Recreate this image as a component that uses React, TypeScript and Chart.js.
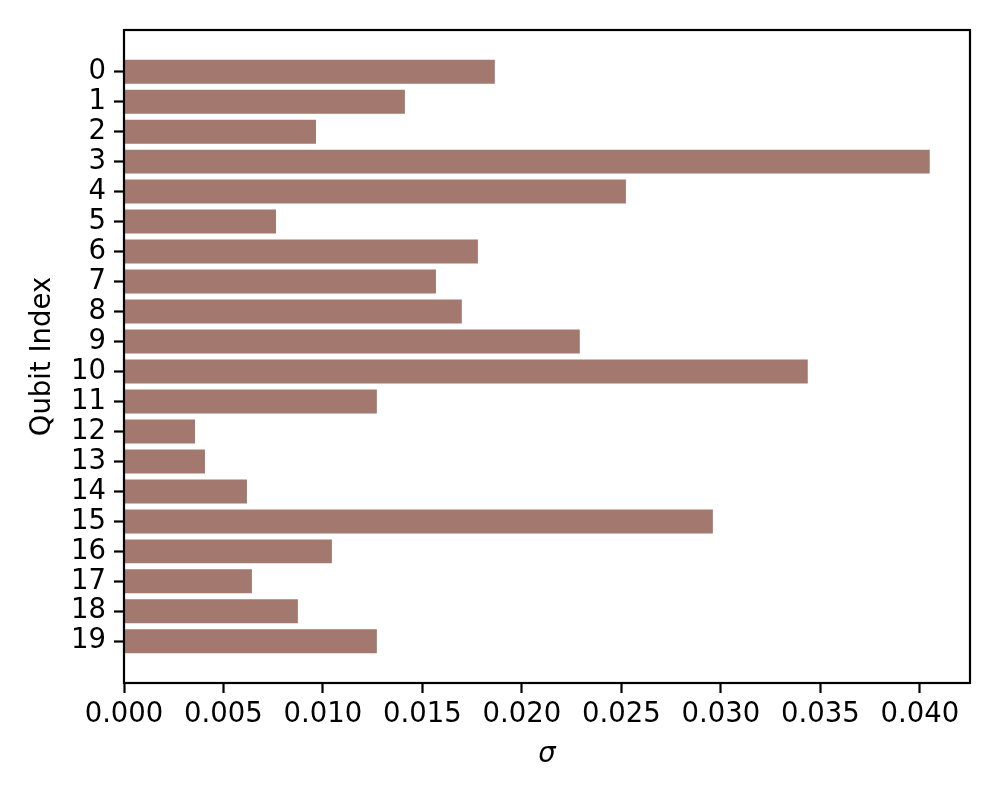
import React, { useEffect, useRef } from "react";
import { Chart, registerables } from "chart.js";

Chart.register(...registerables);

const qubits: number[] = [0, 1, 2, 3, 4, 5, 6, 7, 8, 9, 10, 11, 12, 13, 14, 15, 16, 17, 18, 19];
const sigmaValues: number[] = [
  0.01864, 0.01412, 0.00965, 0.0405, 0.02523, 0.00764, 0.01779, 0.01568, 0.01698, 0.02291,
  0.03437, 0.01271, 0.00357, 0.00407, 0.00618, 0.0296, 0.01045, 0.00643, 0.00874, 0.01271,
];
const xTicks: number[] = [0, 0.005, 0.01, 0.015, 0.02, 0.025, 0.03, 0.035, 0.04];

const FONT = "'DejaVu Sans', sans-serif";
const FONT_SIZE = 27.5;

const framePlugin = {
  id: "frame",
  afterDraw(chart: any) {
    const { ctx, chartArea } = chart;
    ctx.save();
    ctx.strokeStyle = "#000";
    ctx.lineWidth = 2.2;
    ctx.strokeRect(chartArea.left, chartArea.top, chartArea.right - chartArea.left, chartArea.bottom - chartArea.top);
    ctx.restore();
  },
};

export default function App() {
  const ref = useRef<HTMLCanvasElement | null>(null);
  useEffect(() => {
    if (!ref.current) return;
    const xMax = Math.max(...sigmaValues) * 1.05;
    const chart = new Chart(ref.current, {
      type: "bar",
      data: {
        datasets: [
          {
            data: qubits.map((q, i) => ({ x: sigmaValues[i], y: q })),
            backgroundColor: "rgba(140,86,75,0.8)",
            borderWidth: 0,
            categoryPercentage: 1,
            barPercentage: 0.8,
          },
        ],
      },
      options: {
        indexAxis: "y",
        animation: false,
        responsive: false,
        devicePixelRatio: 1,
        layout: { padding: { top: 30, right: 30, left: 0, bottom: 0 } },
        plugins: { legend: { display: false }, tooltip: { enabled: false } },
        scales: {
          x: {
            type: "linear",
            min: 0,
            max: xMax,
            afterBuildTicks: (s: any) => {
              s.ticks = xTicks.map((v) => ({ value: v }));
            },
            afterFit: (s: any) => {
              s.height = 117;
            },
            grid: {
              drawOnChartArea: false,
              drawTicks: true,
              tickLength: 10,
              tickWidth: 2.2,
              tickColor: "#000",
            },
            border: { display: false },
            ticks: {
              autoSkip: false,
              maxRotation: 0,
              padding: 5,
              color: "#000",
              font: { family: FONT, size: FONT_SIZE },
              callback: (v: any) => Number(v).toFixed(3),
            },
            title: {
              display: true,
              text: "σ",
              color: "#000",
              font: { family: FONT, size: FONT_SIZE, style: "italic" },
              padding: { top: 0, bottom: 29 },
            },
          },
          y: {
            type: "linear",
            reverse: true,
            min: -1.39,
            max: 20.39,
            offset: false,
            afterBuildTicks: (s: any) => {
              s.ticks = qubits.map((v) => ({ value: v }));
            },
            afterFit: (s: any) => {
              s.width = 124;
            },
            grid: {
              offset: false,
              drawOnChartArea: false,
              drawTicks: true,
              tickLength: 10,
              tickWidth: 2.2,
              tickColor: "#000",
            },
            border: { display: false },
            ticks: {
              autoSkip: false,
              padding: 8,
              color: "#000",
              font: { family: FONT, size: FONT_SIZE },
              callback: (v: any) => String(v),
            },
            title: {
              display: true,
              text: "Qubit Index",
              color: "#000",
              font: { family: FONT, size: FONT_SIZE },
              padding: { top: 26, bottom: 0 },
            },
          },
        },
      },
      plugins: [framePlugin],
    } as any);
    return () => chart.destroy();
  }, []);
  return (
    <div style={{ position: "fixed", left: 0, top: 0, width: 1000, height: 800, background: "#fff" }}>
      <canvas ref={ref} width={1000} height={800} style={{ width: 1000, height: 800, display: "block" }} />
    </div>
  );
}
